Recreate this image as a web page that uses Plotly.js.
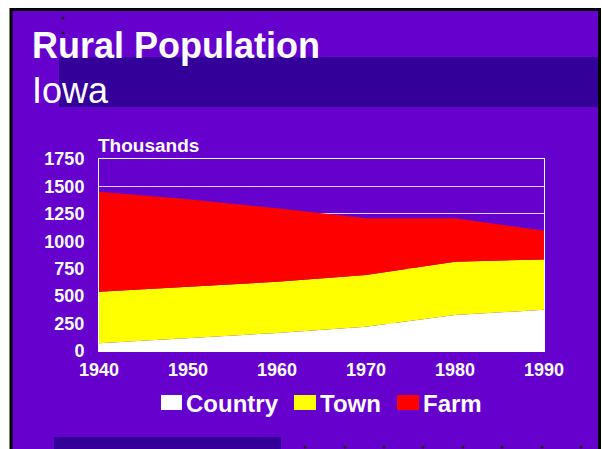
<!DOCTYPE html>
<html><head><meta charset="utf-8">
<script src="https://cdn.plot.ly/plotly-3.0.1.min.js"></script>
<style>html,body{margin:0;padding:0;background:#fff;}#chart{width:602px;height:449px;}</style>
</head><body><div id="chart"></div>
<script>
const years = [1940, 1950, 1960, 1970, 1980, 1990];
const country = [70, 118, 165, 222, 328, 375];
const town = [470, 468, 466, 470, 486, 460];
const farm = [911, 796, 669, 517, 395, 261];
const seriesNames = ['Country', 'Town', 'Farm'];
const seriesColors = ['#FFFFFF', '#FFFF00', '#FF0000'];

const L = 99, R = 544, T = 159, B = 351;
const px = x => (x - L) / (R - L);
const py = y => (B - y) / (B - T);
const PURPLE = '#6600CC', DARK = '#330099';
const font = 'Liberation Sans, Arial, sans-serif';

const traces = [country, town, farm].map((v, i) => ({
  x: years, y: v, type: 'scatter', mode: 'lines', stackgroup: 'one',
  name: seriesNames[i], line: {width: 0}, fillcolor: seriesColors[i], hoverinfo: 'none'
}));

const shapes = [
  {type: 'rect', xref: 'paper', yref: 'paper', x0: px(11), x1: px(599.5), y0: py(9.5), y1: py(470), fillcolor: PURPLE, line: {color: '#000', width: 3}, layer: 'below'},
  {type: 'rect', xref: 'paper', yref: 'paper', x0: px(59), x1: px(598), y0: py(57), y1: py(107), fillcolor: DARK, line: {width: 0}, layer: 'below'},
  {type: 'rect', xref: 'paper', yref: 'paper', x0: px(54), x1: px(281), y0: py(437), y1: py(449), fillcolor: DARK, line: {width: 0}, layer: 'below'},
  {type: 'circle', xref: 'paper', yref: 'paper', x0: px(61.5), x1: px(64.5), y0: py(16.5), y1: py(19.5), fillcolor: '#222', line: {width: 0}, layer: 'below'},
  {type: 'circle', xref: 'paper', yref: 'paper', x0: px(61.5), x1: px(64.5), y0: py(31.5), y1: py(34.5), fillcolor: '#222', line: {width: 0}, layer: 'below'}
];
[305, 345, 384, 423, 463, 502, 542, 581].forEach(x => shapes.push(
  {type: 'circle', xref: 'paper', yref: 'paper', x0: px(x - 1.5), x1: px(x + 1.5), y0: py(445.5), y1: py(448.5), fillcolor: '#222', line: {width: 0}, layer: 'below'}));

const legendPos = [[161, 182, 186], [294, 316, 320], [397, 419, 423]];
legendPos.forEach((p, i) => shapes.push(
  {type: 'rect', xref: 'paper', yref: 'paper', x0: px(p[0]), x1: px(p[1]), y0: py(395), y1: py(410), fillcolor: seriesColors[i], line: {width: 0}}));

const annotations = [
  {text: '<b>Rural Population</b>', xref: 'paper', yref: 'paper', x: px(30), y: py(46), xanchor: 'left', yanchor: 'middle', showarrow: false, font: {family: font, size: 36, color: '#fff'}},
  {text: 'Iowa', xref: 'paper', yref: 'paper', x: px(30), y: py(90), xanchor: 'left', yanchor: 'middle', showarrow: false, font: {family: font, size: 36, color: '#fff'}},
  {text: '<b>Thousands</b>', xref: 'paper', yref: 'paper', x: px(96), y: py(145), xanchor: 'left', yanchor: 'middle', showarrow: false, font: {family: font, size: 19, color: '#fff'}}
];
legendPos.forEach((p, i) => annotations.push(
  {text: '<b>' + seriesNames[i] + '</b>', xref: 'paper', yref: 'paper', x: px(p[2] - 2), y: py(403), xanchor: 'left', yanchor: 'middle', showarrow: false, font: {family: font, size: 24, color: '#fff'}}));

const layout = {
  width: 602, height: 449,
  margin: {l: L, r: 602 - R, t: T, b: 449 - B, pad: 0},
  paper_bgcolor: '#FFFFFF', plot_bgcolor: 'rgba(0,0,0,0)',
  showlegend: false,
  xaxis: {range: [1940, 1990], tickvals: years, ticktext: years.map(String), showgrid: false, zeroline: false,
    showline: true, mirror: true, linecolor: '#fff', linewidth: 1, ticks: '', ticklabelstandoff: 2,
    tickfont: {family: font, size: 18, color: '#fff', weight: 'bold'}},
  yaxis: {range: [0, 1750], dtick: 250, tick0: 0, showgrid: true, gridcolor: 'rgba(255,255,255,0.8)', gridwidth: 1, zeroline: false,
    showline: true, mirror: true, linecolor: '#fff', linewidth: 1, ticks: '', ticklabelstandoff: 10,
    tickfont: {family: font, size: 18, color: '#fff', weight: 'bold'}},
  shapes: shapes, annotations: annotations
};
Plotly.newPlot('chart', traces, layout, {staticPlot: true, displayModeBar: false});
</script></body></html>
